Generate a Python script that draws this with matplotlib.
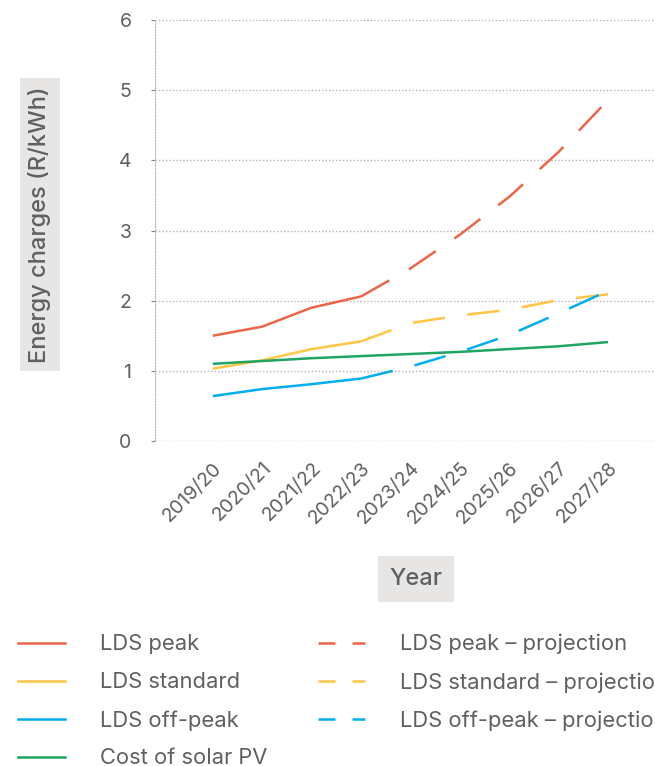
import matplotlib
matplotlib.use("Agg")
import matplotlib.pyplot as plt
from matplotlib.lines import Line2D

years = ["2019/20", "2020/21", "2021/22", "2022/23", "2023/24",
         "2024/25", "2025/26", "2026/27", "2027/28"]

# actual values run to 2022/23, projections from 2022/23 onwards
peak = [1.50, 1.63, 1.90, 2.06]
peak_proj = [2.06, 2.46, 2.94, 3.48, 4.12, 4.86]
standard = [1.03, 1.15, 1.31, 1.42]
standard_proj = [1.42, 1.68, 1.79, 1.87, 2.01, 2.09]
offpeak = [0.64, 0.74, 0.81, 0.89]
offpeak_proj = [0.89, 1.06, 1.27, 1.51, 1.82, 2.14]
solar_pv = [1.10, 1.14, 1.18, 1.21, 1.24, 1.27, 1.31, 1.35, 1.41]

RED = "#ec6549"
YELLOW = "#ffc544"
BLUE = "#00aeef"
GREEN = "#1fa463"
GREY_TXT = "#606060"

plt.rcParams["font.family"] = ["Inter", "DejaVu Sans"]

fig = plt.figure(figsize=(6.55, 7.66), dpi=100)
ax = fig.add_axes([155 / 655, 1 - 441 / 766, 500 / 655, 421 / 766])

x_act = list(range(4))
x_proj = list(range(3, 9))
lw = 1.8
dash = (13, 9)

ax.plot(x_act, peak, color=RED, lw=lw, solid_capstyle="butt")
ax.plot(x_act, standard, color=YELLOW, lw=lw, solid_capstyle="butt")
ax.plot(x_act, offpeak, color=BLUE, lw=lw, solid_capstyle="butt")
ax.plot(range(len(years)), solar_pv, color=GREEN, lw=lw, solid_capstyle="butt")
ax.plot(x_proj, peak_proj, color=RED, lw=lw, dashes=dash)
ax.plot(x_proj, standard_proj, color=YELLOW, lw=lw, dashes=dash)
ax.plot(x_proj, offpeak_proj, color=BLUE, lw=lw, dashes=dash)

ax.set_xlim(-1.17, 8.95)
ax.set_ylim(0, 6)
ax.set_yticks(range(7))
ax.set_xticks(range(len(years)))
ax.set_xticklabels(years, rotation=45, ha="right", rotation_mode="anchor")

ax.grid(axis="y", linestyle=(0, (1, 1.5)), color="#b5b5b5", lw=1)
for s in ["top", "right", "bottom"]:
    ax.spines[s].set_visible(False)
ax.spines["left"].set_linestyle((0, (1, 1.5)))
ax.spines["left"].set_color("#b5b5b5")
ax.tick_params(axis="y", length=3, color="#888888", labelsize=14,
               labelcolor=GREY_TXT, pad=14)
ax.tick_params(axis="x", length=0, labelsize=14, labelcolor=GREY_TXT, pad=13)

ax.set_ylabel("Energy charges (R/kWh)", fontsize=17, color=GREY_TXT,
              fontweight="medium",
              bbox=dict(boxstyle="square,pad=0.36", fc="#e8e6e4", ec="none"))
ax.yaxis.set_label_coords(-0.23, 0.514)
ax.yaxis.label.set_va("center")

ax.set_xlabel("Year", fontsize=17, color=GREY_TXT, fontweight="medium",
              bbox=dict(boxstyle="square,pad=0.5", fc="#e8e6e4", ec="none"))
ax.xaxis.set_label_coords(0.522, -0.328)
ax.xaxis.label.set_va("center")

leg_dash = (6.8, 6.8)
handles = [
    Line2D([], [], color=RED, lw=lw),
    Line2D([], [], color=YELLOW, lw=lw),
    Line2D([], [], color=BLUE, lw=lw),
    Line2D([], [], color=GREEN, lw=lw),
    Line2D([], [], color=RED, lw=lw, dashes=leg_dash),
    Line2D([], [], color=YELLOW, lw=lw, dashes=leg_dash),
    Line2D([], [], color=BLUE, lw=lw, dashes=leg_dash),
]
labels = ["LDS peak", "LDS standard", "LDS off-peak", "Cost of solar PV",
          "LDS peak \u2013 projection", "LDS standard \u2013 projection",
          "LDS off-peak \u2013 projection"]
leg = fig.legend(handles, labels, ncol=2, loc="upper left",
                 bbox_to_anchor=(18 / 655, 1 - 634 / 766), frameon=False,
                 fontsize=15.8, handlelength=2.15, handletextpad=1.6,
                 labelspacing=0.81, columnspacing=2.3, borderpad=0,
                 borderaxespad=0)
for t in leg.get_texts():
    t.set_color(GREY_TXT)

fig.savefig("out.png", dpi=100)
